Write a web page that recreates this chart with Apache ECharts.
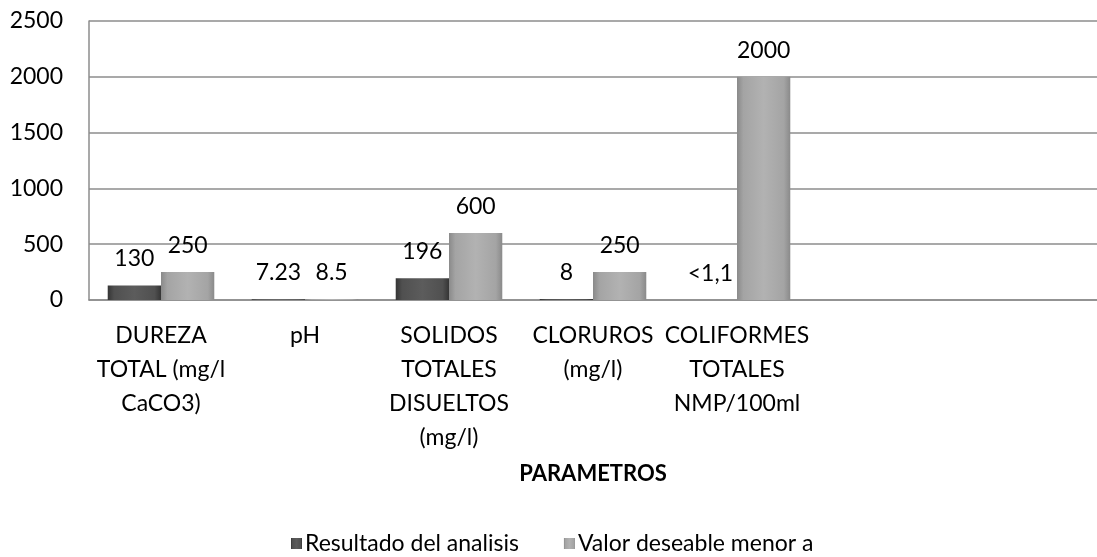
<!DOCTYPE html>
<html>
<head>
<meta charset="utf-8">
<script src="https://cdn.jsdelivr.net/npm/echarts@6/dist/echarts.min.js"></script>
<style>
html,body{margin:0;padding:0;background:#fff;}
#chart{width:1097px;height:557px;}
</style>
</head>
<body>
<div id="chart"></div>
<script>
var categories = [
  "DUREZA\nTOTAL (mg/l\nCaCO3)",
  "pH",
  "SOLIDOS\nTOTALES\nDISUELTOS\n(mg/l)",
  "CLORUROS\n(mg/l)",
  "COLIFORMES\nTOTALES\nNMP/100ml",
  "",
  ""
];
var resultado = [130, 7.23, 196, 8, 1.1, null, null];
var resultadoLabels = ["130", "7.23", "196", "8", "<1,1", "", ""];
var deseable = [250, 8.5, 600, 250, 2000, null, null];
var deseableLabels = ["250", "8.5", "600", "250", "2000", "", ""];
var yTicks = [0, 500, 1000, 1500, 2000, 2500];
var seriesNames = ["Resultado del analisis", "Valor deseable menor a"];
var axisTitle = "PARAMETROS";

var FONT = "Lato";
var chart = echarts.init(document.getElementById('chart'), null, {renderer: 'canvas'});

function hgrad(stops) {
  return new echarts.graphic.LinearGradient(0, 0, 1, 0, stops.map(function (s) { return {offset: s[0], color: s[1]}; }));
}
var darkFill = hgrad([[0, '#353535'], [0.12, '#505050'], [0.5, '#5c5c5c'], [0.88, '#505050'], [1, '#353535']]);
var lightFill = hgrad([[0, '#8a8a8a'], [0.12, '#a4a4a4'], [0.5, '#b2b2b2'], [0.88, '#a4a4a4'], [1, '#8a8a8a']]);

function mkLabel(arr) {
  return {
    show: true,
    position: 'top',
    distance: 15,
    color: '#000',
    fontFamily: FONT,
    fontSize: 23,
    formatter: function (p) { return arr[p.dataIndex]; }
  };
}

chart.setOption({
  animation: false,
  backgroundColor: '#fff',
  textStyle: {fontFamily: FONT},
  grid: {left: 89, right: 0, top: 21, bottom: 257, containLabel: false},
  legend: {
    left: 286,
    top: 527,
    itemWidth: 11,
    itemHeight: 11,
    itemGap: 45,
    icon: 'rect',
    textStyle: {fontFamily: FONT, fontSize: 23, color: '#000', padding: [0, 0, 0, -2]},
    data: seriesNames
  },
  xAxis: {
    type: 'category',
    data: categories,
    name: axisTitle,
    nameLocation: 'middle',
    nameGap: 163,
    nameTextStyle: {fontFamily: FONT, fontSize: 22, fontWeight: 'bold', color: '#000'},
    axisLine: {show: true, lineStyle: {color: '#8c8c8c', width: 1.5}},
    axisTick: {show: false},
    axisLabel: {
      interval: 0,
      margin: 19,
      color: '#000',
      fontFamily: FONT,
      fontSize: 23,
      lineHeight: 34,
      align: 'center',
      verticalAlign: 'top'
    }
  },
  yAxis: {
    type: 'value',
    min: 0,
    max: 2500,
    interval: 500,
    axisLine: {show: true, lineStyle: {color: '#8c8c8c', width: 1.5}},
    axisTick: {show: false},
    splitLine: {show: true, lineStyle: {color: '#8c8c8c', width: 1.5}},
    axisLabel: {
      margin: 26,
      color: '#000',
      fontFamily: FONT,
      fontSize: 23,
      formatter: function (v) { return yTicks.indexOf(v) >= 0 ? String(v) : ''; }
    }
  },
  series: [
    {
      name: seriesNames[0],
      type: 'bar',
      data: resultado,
      barGap: '0%',
      barCategoryGap: '26%',
      itemStyle: {color: darkFill},
      label: mkLabel(resultadoLabels)
    },
    {
      name: seriesNames[1],
      type: 'bar',
      data: deseable,
      barGap: '0%',
      barCategoryGap: '26%',
      itemStyle: {color: lightFill},
      label: mkLabel(deseableLabels)
    }
  ]
});
</script>
</body>
</html>
